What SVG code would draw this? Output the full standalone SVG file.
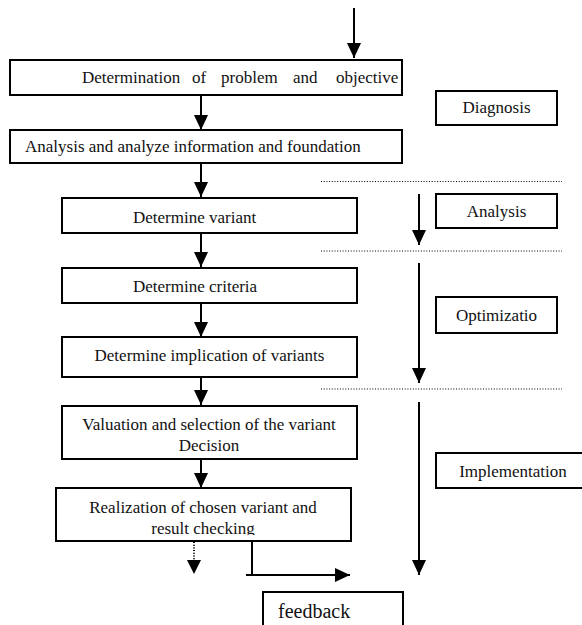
<svg xmlns="http://www.w3.org/2000/svg" width="582" height="625" viewBox="0 0 582 625">
  <style>
    .box { fill: #ffffff; stroke: #000000; stroke-width: 2; }
    .lbl { font-family: "Liberation Serif", "Times New Roman", serif; font-size: 17px; fill: #111111; }
    .mid { text-anchor: middle; }
    .arrow { fill: none; stroke: #000000; stroke-width: 2; marker-end: url(#head); }
    .plain { fill: none; stroke: #000000; stroke-width: 2; }
    .dotted { fill: none; stroke: #000000; stroke-width: 1.2; stroke-dasharray: 1 1.7; }
  </style>
  <defs>
    <marker id="head" markerUnits="userSpaceOnUse" markerWidth="16" markerHeight="16" viewBox="0 0 16 16" refX="15" refY="8" orient="auto">
      <path d="M0,1 L15,8 L0,15 Z" fill="#000000"/>
    </marker>
    <clipPath id="clipRealize">
      <rect x="56" y="488" width="295" height="47"/>
    </clipPath>
  </defs>

  <rect width="582" height="625" fill="#ffffff"/>

  <!-- phase separators -->
  <g id="separators">
    <line class="dotted" x1="321" y1="181.5" x2="562" y2="181.5"/>
    <line class="dotted" x1="321" y1="251" x2="562" y2="251"/>
    <line class="dotted" x1="321" y1="389" x2="562" y2="389"/>
  </g>

  <!-- connectors -->
  <g id="connectors">
    <line class="arrow" x1="354" y1="8" x2="354" y2="58"/>
    <line class="arrow" x1="201" y1="95" x2="201" y2="130"/>
    <line class="arrow" x1="201" y1="163" x2="201" y2="197"/>
    <line class="arrow" x1="201" y1="233" x2="201" y2="267"/>
    <line class="arrow" x1="201" y1="303" x2="201" y2="337"/>
    <line class="arrow" x1="201" y1="377" x2="201" y2="405"/>
    <line class="arrow" x1="201" y1="459" x2="201" y2="488"/>
    <line class="dotted" x1="194" y1="542" x2="194" y2="562" style="stroke-width:2"/>
    <path d="M187,560 L201,560 L194,574 Z" fill="#000000"/>
    <line class="plain" x1="252" y1="541" x2="252" y2="575"/>
    <line class="arrow" x1="246" y1="575" x2="350" y2="575"/>
    <line class="arrow" x1="419" y1="194" x2="419" y2="245"/>
    <line class="arrow" x1="419" y1="263" x2="419" y2="383"/>
    <line class="arrow" x1="419" y1="402" x2="419" y2="575"/>
  </g>

  <g id="problem">
    <rect class="box" x="10" y="60" width="392" height="35"/>
    <text class="lbl" y="83"><tspan x="82">Determination</tspan><tspan x="192">of</tspan><tspan x="221">problem</tspan><tspan x="293">and</tspan><tspan x="336">objective</tspan></text>
  </g>

  <g id="information">
    <rect class="box" x="10" y="130" width="392" height="33"/>
    <text class="lbl" x="25" y="152">Analysis and analyze information and foundation</text>
  </g>

  <g id="variant">
    <rect class="box" x="62" y="198" width="295" height="35"/>
    <text class="lbl" x="133" y="222.5">Determine variant</text>
  </g>

  <g id="criteria">
    <rect class="box" x="62" y="268" width="295" height="35"/>
    <text class="lbl" x="133" y="291.5">Determine criteria</text>
  </g>

  <g id="implication">
    <rect class="box" x="62" y="337" width="295" height="40"/>
    <text class="lbl mid" x="209.5" y="361">Determine implication of variants</text>
  </g>

  <g id="valuation">
    <rect class="box" x="62" y="406" width="295" height="53"/>
    <text class="lbl mid" x="209" y="430">Valuation and selection of the variant</text>
    <text class="lbl mid" x="209" y="451">Decision</text>
  </g>

  <g id="realization">
    <rect class="box" x="56" y="488" width="295" height="53"/>
    <text class="lbl mid" x="203" y="513">Realization of chosen variant and</text>
    <text class="lbl mid" x="203" y="533.5" clip-path="url(#clipRealize)">result checking</text>
  </g>

  <g id="feedback">
    <rect class="box" x="263" y="592" width="140" height="50"/>
    <text class="lbl" x="278" y="618" style="font-size:20px">feedback</text>
  </g>

  <g id="diagnosis">
    <rect class="box" x="436" y="91" width="121" height="34"/>
    <text class="lbl mid" x="496.5" y="113">Diagnosis</text>
  </g>

  <g id="analysis">
    <rect class="box" x="436" y="194" width="121" height="34"/>
    <text class="lbl mid" x="496.5" y="217">Analysis</text>
  </g>

  <g id="optimization">
    <rect class="box" x="436" y="297" width="121" height="36"/>
    <text class="lbl mid" x="496.5" y="321">Optimizatio</text>
  </g>

  <g id="implementation">
    <rect class="box" x="436" y="453" width="160" height="35"/>
    <text class="lbl mid" x="513" y="477">Implementation</text>
  </g>
</svg>
